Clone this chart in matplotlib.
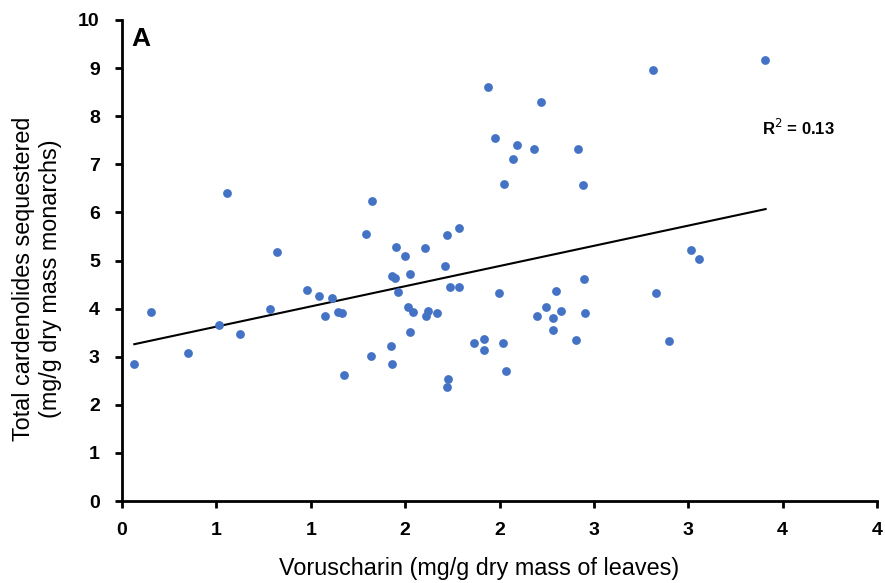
import numpy as np
import matplotlib
matplotlib.use("Agg")
import matplotlib.pyplot as plt
from matplotlib.ticker import FuncFormatter, MultipleLocator

plt.rcParams['font.family'] = ['Liberation Sans', 'DejaVu Sans']

voruscharin = [0.065, 0.152, 0.351, 0.512, 0.556, 0.625, 0.784, 0.820, 0.978, 1.045,
               1.111, 1.077, 1.144, 1.164, 1.176, 1.293, 1.325, 1.319, 1.427, 1.430,
               1.430, 1.448, 1.452, 1.464, 1.499, 1.526, 1.515, 1.540, 1.526, 1.604,
               1.621, 1.611, 1.667, 1.713, 1.724, 1.736, 1.725, 1.722, 1.785, 1.785,
               1.866, 1.916, 1.916, 1.939, 1.978, 1.997, 2.017, 2.026, 2.033, 2.070,
               2.094, 2.183, 2.197, 2.218, 2.245, 2.285, 2.285, 2.301, 2.326, 2.404,
               2.418, 2.440, 2.448, 2.455, 2.815, 2.827, 2.900, 3.013, 3.057, 3.407]
cardenolides = [2.84, 3.92, 3.07, 3.65, 6.41, 3.47, 3.99, 5.17, 4.38, 4.27,
                4.23, 3.85, 3.93, 3.90, 2.61, 5.56, 6.24, 3.01, 3.22, 2.85,
                4.68, 4.63, 5.28, 4.34, 5.09, 4.72, 4.03, 3.92, 3.52, 5.25,
                3.95, 3.85, 3.90, 4.89, 5.52, 4.45, 2.53, 2.36, 5.68, 4.45,
                3.29, 3.37, 3.13, 8.61, 7.55, 4.33, 3.29, 6.59, 2.71, 7.10,
                7.40, 7.31, 3.84, 8.30, 4.04, 3.81, 3.55, 4.37, 3.95, 3.35,
                7.32, 6.57, 4.62, 3.91, 8.96, 4.32, 3.33, 5.22, 5.04, 9.16]

trend_x = [0.065, 3.41]
trend_intercept = 3.205
trend_slope = 0.84
r2_label = "R$^2$ = 0.13"

fig = plt.figure(figsize=(8.85, 5.83), dpi=100)
ax = fig.add_axes([122/885, 82/583, 755/885, 481/583])

ax.scatter(voruscharin, cardenolides, s=40, color='#4472C4', zorder=3, linewidths=0)
tx = np.array(trend_x)
ax.plot(tx, trend_intercept + trend_slope * tx, color='black', lw=1.5, zorder=2)

ax.set_xlim(0, 4)
ax.set_ylim(0, 10)
ax.xaxis.set_major_locator(MultipleLocator(0.5))
ax.yaxis.set_major_locator(MultipleLocator(1))
ax.xaxis.set_major_formatter(FuncFormatter(lambda v, p: str(int(np.floor(v + 0.5 + 1e-9)))))
ax.yaxis.set_major_formatter(FuncFormatter(lambda v, p: str(int(round(v)))))

for s in ['top', 'right']:
    ax.spines[s].set_visible(False)
for s in ['left', 'bottom']:
    ax.spines[s].set_linewidth(2)
    ax.spines[s].set_color('black')
ax.tick_params(axis='both', direction='out', length=5, width=2, labelsize=14)
ax.tick_params(axis='x', pad=10)
ax.tick_params(axis='y', pad=11)
for lab in ax.get_xticklabels() + ax.get_yticklabels():
    lab.set_fontweight('bold')

ax.set_xlabel('Voruscharin (mg/g dry mass of leaves)', fontsize=16.8)
ax.set_ylabel('Total cardenolides sequestered\n(mg/g dry mass monarchs)', fontsize=16.8)
ax.xaxis.set_label_coords(0.473, -0.116)
ax.yaxis.set_label_coords(-0.0795, 0.462)

ax.text(0.012, 0.985, 'A', transform=ax.transAxes, fontsize=19, fontweight='bold', va='top', ha='left')
ax.text(3.39, 7.75, r2_label, fontsize=12, fontweight='bold', va='center', ha='left')

fig.savefig('out.png', dpi=100)
